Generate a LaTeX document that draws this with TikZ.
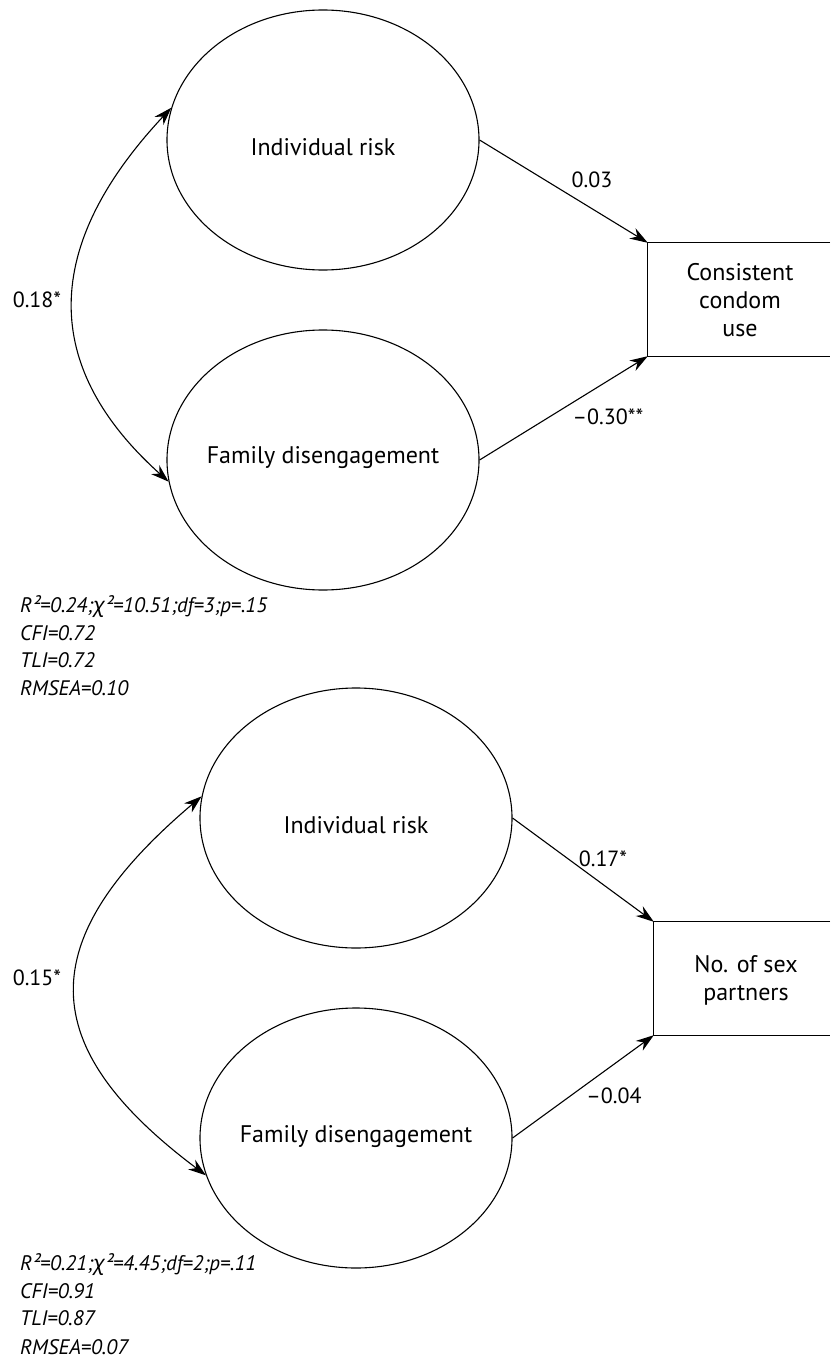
\documentclass[tikz,border=0pt]{standalone}
\usepackage{fontspec}
\setmainfont{PT Sans}
\newfontfamily\grk{Noto Sans}
\usetikzlibrary{shapes.geometric,arrows.meta}
\begin{document}
\begin{tikzpicture}[x=1pt,y=-1pt,
  latent/.style={draw, ellipse, line width=1.1pt, minimum width=312pt, minimum height=260pt, inner sep=0pt},
  obsbox/.style={rectangle, draw=none, minimum height=113pt, inner sep=0pt},
  boxtext/.style={align=center, inner sep=0pt, font=\fontsize{24}{28}\selectfont},
  ntext/.style={inner sep=0pt, font=\fontsize{24}{28}\selectfont},
  coef/.style={inner sep=0pt, font=\fontsize{22}{26}\selectfont},
  statline/.style={anchor=base west, inner sep=0pt, font=\itshape\fontsize{21}{25}\selectfont},
  regr/.style={-{Stealth[length=18pt,width=12pt]}, line width=1.1pt},
  cov/.style={{Stealth[length=18pt,width=12pt]}-{Stealth[length=18pt,width=12pt]}, line width=1.1pt},
  edge3/.style={line width=1.1pt}
]
\path[use as bounding box] (0,0) rectangle (830,1359);

% ---------- top model ----------
\node[latent] (I1) at (323,140) {};
\node[ntext] (I1t) at (323,147) {Individual risk};
\node[latent] (F1) at (323,460) {};
\node[ntext] (F1t) at (323,458) {Family disengagement};
\node[obsbox, minimum width=182pt] (C1) at (739,299.5) {};
\node[boxtext] (C1t) at (740,300) {Consistent\\condom\\use};
\draw[edge3] (C1.north east) -- (C1.north west) -- (C1.south west) -- (C1.south east);

\draw[regr] (I1.east) -- (C1.north west);
\draw[regr] (F1.east) -- (C1.south west);
\draw[cov] (I1.168) .. controls +(-130,139) and +(-128,-115) .. (F1.188);

\node[coef] (l1a) at (592,180) {0.03};
\node[coef] (l1b) at (608,417) {–0.30**};
\node[coef] (l1c) at (37,300) {0.18*};

\node[statline] (s1a) at (20,612) {R²=0.24;{\grk\itshape χ}²=10.51;df=3;p=.15};
\node[statline] (s1b) at (20,640) {CFI=0.72};
\node[statline] (s1c) at (20,667) {TLI=0.72};
\node[statline] (s1d) at (20,695) {RMSEA=0.10};

% ---------- bottom model ----------
\node[latent] (I2) at (356,818) {};
\node[ntext] (I2t) at (356,825) {Individual risk};
\node[latent] (F2) at (356,1138) {};
\node[ntext] (F2t) at (356,1137) {Family disengagement};
\node[obsbox, minimum width=176pt] (C2) at (742,978.5) {};
\node[boxtext] (C2t) at (746,980) {No. of sex\\partners};
\draw[edge3] (C2.north east) -- (C2.north west) -- (C2.south west) -- (C2.south east);

\draw[regr] (I2.east) -- (C2.north west);
\draw[regr] (F2.east) -- (C2.south west);
\draw[cov] (I2.172) .. controls +(-170,144) and +(-172,-129) .. (F2.194);

\node[coef] (l2a) at (603,859) {0.17*};
\node[coef] (l2b) at (614,1096) {–0.04};
\node[coef] (l2c) at (37,978) {0.15*};

\node[statline] (s2a) at (20,1270) {R²=0.21;{\grk\itshape χ}²=4.45;df=2;p=.11};
\node[statline] (s2b) at (20,1298) {CFI=0.91};
\node[statline] (s2c) at (20,1325) {TLI=0.87};
\node[statline] (s2d) at (20,1354) {RMSEA=0.07};
\end{tikzpicture}
\end{document}
